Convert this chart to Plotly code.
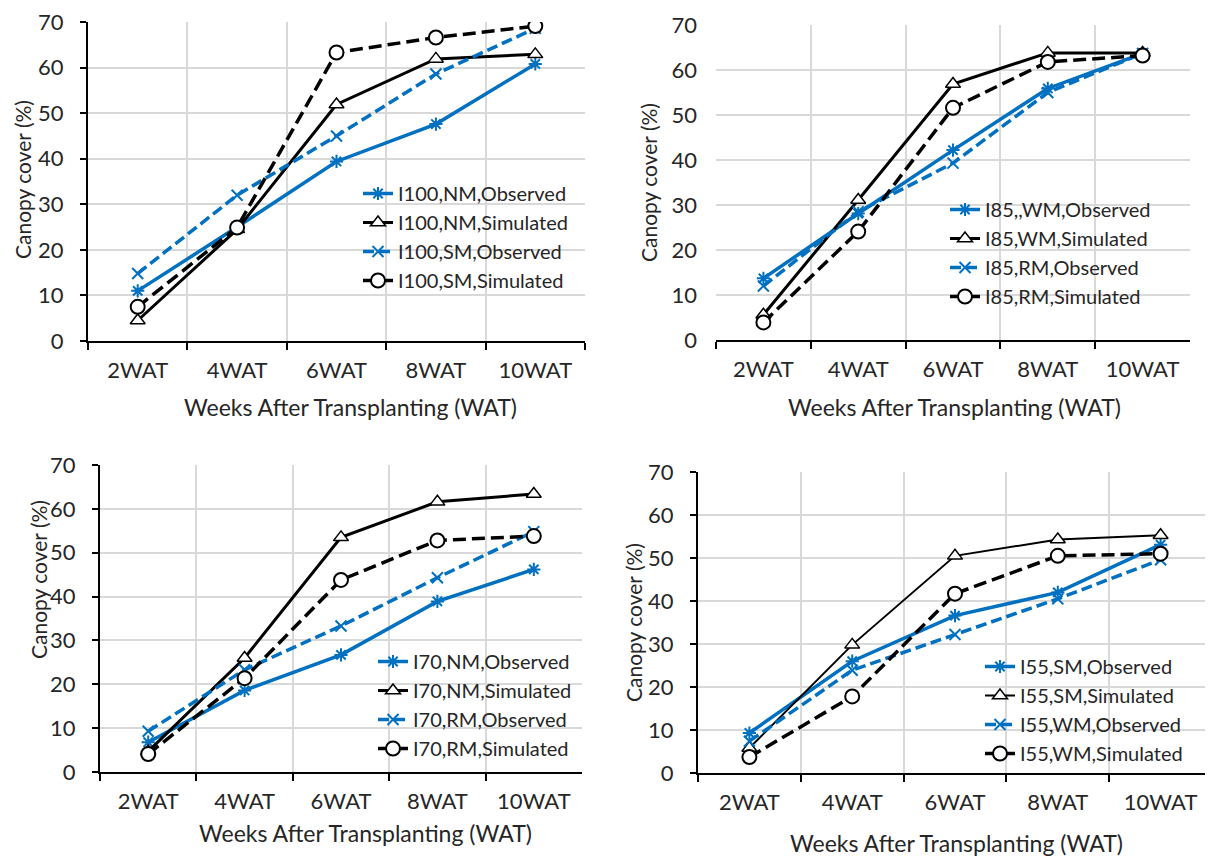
import plotly.graph_objects as go

weeks = ["2WAT", "4WAT", "6WAT", "8WAT", "10WAT"]

i100_nm_obs = [11.0, 25.0, 39.4, 47.6, 60.8]
i100_nm_sim = [4.5, 24.5, 51.9, 61.9, 62.9]
i100_sm_obs = [14.8, 32.0, 45.0, 58.6, 68.6]
i100_sm_sim = [7.5, 24.9, 63.3, 66.6, 69.1]

i85_wm_obs = [13.7, 28.1, 42.2, 55.9, 63.7]
i85_wm_sim = [5.6, 31.1, 56.9, 63.8, 63.8]
i85_rm_obs = [12.0, 28.5, 39.3, 55.0, 63.7]
i85_rm_sim = [3.9, 24.1, 51.6, 61.8, 63.2]

i70_nm_obs = [6.8, 18.6, 26.7, 38.9, 46.2]
i70_nm_sim = [4.7, 26.0, 53.5, 61.6, 63.4]
i70_rm_obs = [9.3, 23.3, 33.3, 44.3, 54.8]
i70_rm_sim = [4.1, 21.4, 43.8, 52.8, 53.8]

i55_sm_obs = [9.3, 26.0, 36.6, 42.0, 53.1]
i55_sm_sim = [5.8, 29.8, 50.5, 54.3, 55.3]
i55_wm_obs = [7.4, 23.9, 32.2, 40.5, 49.6]
i55_wm_sim = [3.7, 17.8, 41.7, 50.5, 51.0]

panels = [
    [("I100,NM,Observed", i100_nm_obs), ("I100,NM,Simulated", i100_nm_sim),
     ("I100,SM,Observed", i100_sm_obs), ("I100,SM,Simulated", i100_sm_sim)],
    [("I85,,WM,Observed", i85_wm_obs), ("I85,WM,Simulated", i85_wm_sim),
     ("I85,RM,Observed", i85_rm_obs), ("I85,RM,Simulated", i85_rm_sim)],
    [("I70,NM,Observed", i70_nm_obs), ("I70,NM,Simulated", i70_nm_sim),
     ("I70,RM,Observed", i70_rm_obs), ("I70,RM,Simulated", i70_rm_sim)],
    [("I55,SM,Observed", i55_sm_obs), ("I55,SM,Simulated", i55_sm_sim),
     ("I55,WM,Observed", i55_wm_obs), ("I55,WM,Simulated", i55_wm_sim)],
]

# page body has an 8px margin; figure sized to fill the window exactly
OFF = 8
W, H = 1213 - OFF, 859 - OFF
BLUE = "#0070c0"
FONT = "Lato"
TXT = "#262626"


def fx(px):
    return (px - OFF) / W


def fy(py):
    return 1 - (py - OFF) / H


# plot areas in window pixels: left, right, top, bottom
boxes = [
    (88, 585, 22, 341),
    (716, 1190, 25, 340),
    (100, 582, 465, 772),
    (698, 1212, 472, 773),
]
# legend text start x, first-row centre y
legend_pos = [(400, 194), (987, 210), (415, 662), (1022, 667)]
xtitle_pos = [(350, 407), (954, 407), (365, 833), (956, 843)]
ytitle_pos = [(22, 180), (649, 183), (38, 580), (633, 623)]
show_yline = [True, False, True, True]
sim_solid_width = [3, 3, 3, 2]

fig = go.Figure()

for p, series in enumerate(panels):
    xa = "x" if p == 0 else f"x{p+1}"
    ya = "y" if p == 0 else f"y{p+1}"
    lg = "legend" if p == 0 else f"legend{p+1}"
    styles = [
        dict(line=dict(color=BLUE, width=3.5, dash="solid"),
             marker=dict(symbol="asterisk-open", size=11, color=BLUE,
                         line=dict(color=BLUE, width=2))),
        dict(line=dict(color="black", width=sim_solid_width[p], dash="solid"),
             marker=dict(symbol="triangle-up", size=13, color="white",
                         line=dict(color="black", width=1.5))),
        dict(line=dict(color=BLUE, width=3.5, dash="11px,5px"),
             marker=dict(symbol="x-thin-open", size=11, color=BLUE,
                         line=dict(color=BLUE, width=2))),
        dict(line=dict(color="black", width=3.5, dash="13px,6px"),
             marker=dict(symbol="circle", size=14, color="white",
                         line=dict(color="black", width=2))),
    ]
    for k, (name, vals) in enumerate(series):
        fig.add_trace(go.Scatter(
            x=weeks, y=vals, name=name, mode="lines+markers",
            xaxis=xa, yaxis=ya, legend=lg, legendgroup=f"g{p}{k}",
            **styles[k]))

    l, r, t, b = boxes[p]
    xkey = "xaxis" if p == 0 else f"xaxis{p+1}"
    ykey = "yaxis" if p == 0 else f"yaxis{p+1}"
    fig.layout[xkey] = dict(
        domain=[fx(l), min(fx(r), 1.0)], anchor=ya, type="category",
        range=[-0.5, 4.5],
        tickson="boundaries", ticks="outside", ticklen=7, tickwidth=2,
        tickcolor="black", showline=True, linecolor="black", linewidth=2,
        showgrid=True, gridcolor="#d9d9d9", gridwidth=2,
        tickfont=dict(family=FONT, size=22, color=TXT),
        ticklabelstandoff=9, zeroline=False, automargin=False,
        ticklabeloverflow="allow",
    )
    fig.layout[ykey] = dict(
        domain=[fy(b), fy(t)], anchor=xa, range=[0, 70], dtick=10,
        ticks="outside" if show_yline[p] else "", ticklen=6, tickwidth=2,
        tickcolor="black", showline=show_yline[p], linecolor="black",
        linewidth=2, showgrid=True, gridcolor="#d9d9d9", gridwidth=2,
        tickfont=dict(family=FONT, size=22, color=TXT),
        ticklabelstandoff=12 if show_yline[p] else 18, zeroline=False,
        automargin=False, ticklabeloverflow="allow",
    )
    lx, ly = legend_pos[p]
    fig.layout[lg] = dict(
        x=fx(lx - 42), y=fy(ly - 20), xanchor="left", yanchor="top",
        bgcolor="rgba(0,0,0,0)", font=dict(family=FONT, size=20, color=TXT),
        tracegroupgap=0, itemwidth=30,
    )
    tx, ty = xtitle_pos[p]
    fig.add_annotation(text="Weeks After Transplanting (WAT)", x=fx(tx),
                       y=fy(ty), xref="paper", yref="paper",
                       showarrow=False, xanchor="center", yanchor="middle",
                       font=dict(family=FONT, size=23, color=TXT))
    vx, vy = ytitle_pos[p]
    fig.add_annotation(text="Canopy cover (%)", x=fx(vx), y=fy(vy),
                       xref="paper", yref="paper", showarrow=False,
                       textangle=-90, xanchor="center", yanchor="middle",
                       font=dict(family=FONT, size=21, color=TXT))

fig.update_layout(
    width=W, height=H,
    margin=dict(l=0, r=0, t=0, b=0, pad=0, autoexpand=False),
    paper_bgcolor="white", plot_bgcolor="white", showlegend=True,
)

fig.write_html("out.html")
